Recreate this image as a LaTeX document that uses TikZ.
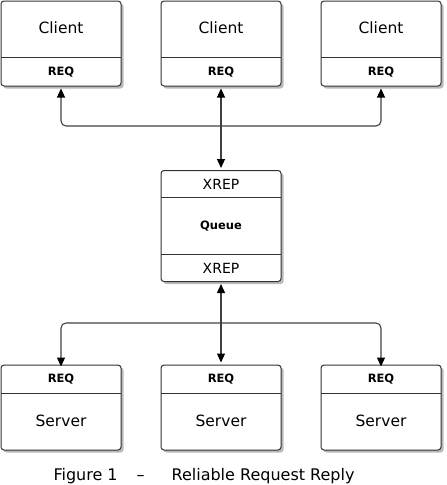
\documentclass[tikz,border=0pt]{standalone}
\usepackage{fontspec}
\setmainfont{DejaVu Sans}
\usetikzlibrary{arrows.meta,shadows}

\tikzset{
	box/.style={draw=black!80, line width=1pt, rounded corners=3pt, fill=white,
		minimum width=120pt, inner sep=0pt,
		drop shadow={shadow xshift=2.5pt, shadow yshift=-2.5pt, fill=black!45, opacity=0.6}},
	wire/.style={draw=black!75, line width=1.1pt, rounded corners=5pt,
		{Triangle[length=9pt,width=8pt,color=black]}-{Triangle[length=9pt,width=8pt,color=black]}},
	big/.style={font=\fontsize{15.5}{18}\selectfont},
	small/.style={font=\fontsize{11.5}{13}\selectfont\bfseries},
	port/.style={font=\fontsize{14}{16}\selectfont}
}

\begin{document}
\begin{tikzpicture}[x=1pt,y=-1pt]
	
	\useasboundingbox (0,0) rectangle (447,485);
	
	% clients
	\foreach \i in {0,1,2}
	{
		\node[box, minimum height=85pt] (client\i) at (61+160*\i,43.5) {};
		\draw[black!80, line width=1pt] (1+160*\i,57) -- (121+160*\i,57);
		\node[big] (cname\i) at (61+160*\i,28) {Client};
		\node[small] (creq\i) at (61+160*\i,72) {REQ};
	}
	
	% queue
	\node[box, minimum height=111pt] (queue) at (221,226) {};
	\draw[black!80, line width=1pt] (161,197) -- (281,197);
	\draw[black!80, line width=1pt] (161,254) -- (281,254);
	\node[port] (front) at (221,184) {XREP};
	\node[small] (qname) at (221,226) {Queue};
	\node[port] (back) at (221,268) {XREP};
	
	% servers
	\foreach \i in {0,1,2}
	{
		\node[box, minimum height=85pt] (server\i) at (61+160*\i,407.5) {};
		\draw[black!80, line width=1pt] (1+160*\i,393) -- (121+160*\i,393);
		\node[small] (sreq\i) at (61+160*\i,379) {REQ};
		\node[big] (sname\i) at (61+160*\i,421) {Server};
	}
	
	% connections
	\coordinate (top) at (221,126);
	\coordinate (bottom) at (221,323);
	\draw[wire] ([yshift=-2pt]client0.south) |- (top) -| ([yshift=-2pt]client2.south);
	\draw[wire] ([yshift=-2pt]client1.south) -- ([yshift=2pt]queue.north);
	\draw[wire] ([yshift=-2pt]server0.north) |- (bottom) -| ([yshift=-2pt]server2.north);
	\draw[wire] ([yshift=2pt]server1.north) -- ([yshift=-2pt]queue.south);
	
	\node[font=\fontsize{16}{18}\selectfont] (caption) at (204,476) {Figure 1\hspace{19pt}--\hspace{27pt}Reliable Request Reply};
	
\end{tikzpicture}
\end{document}
